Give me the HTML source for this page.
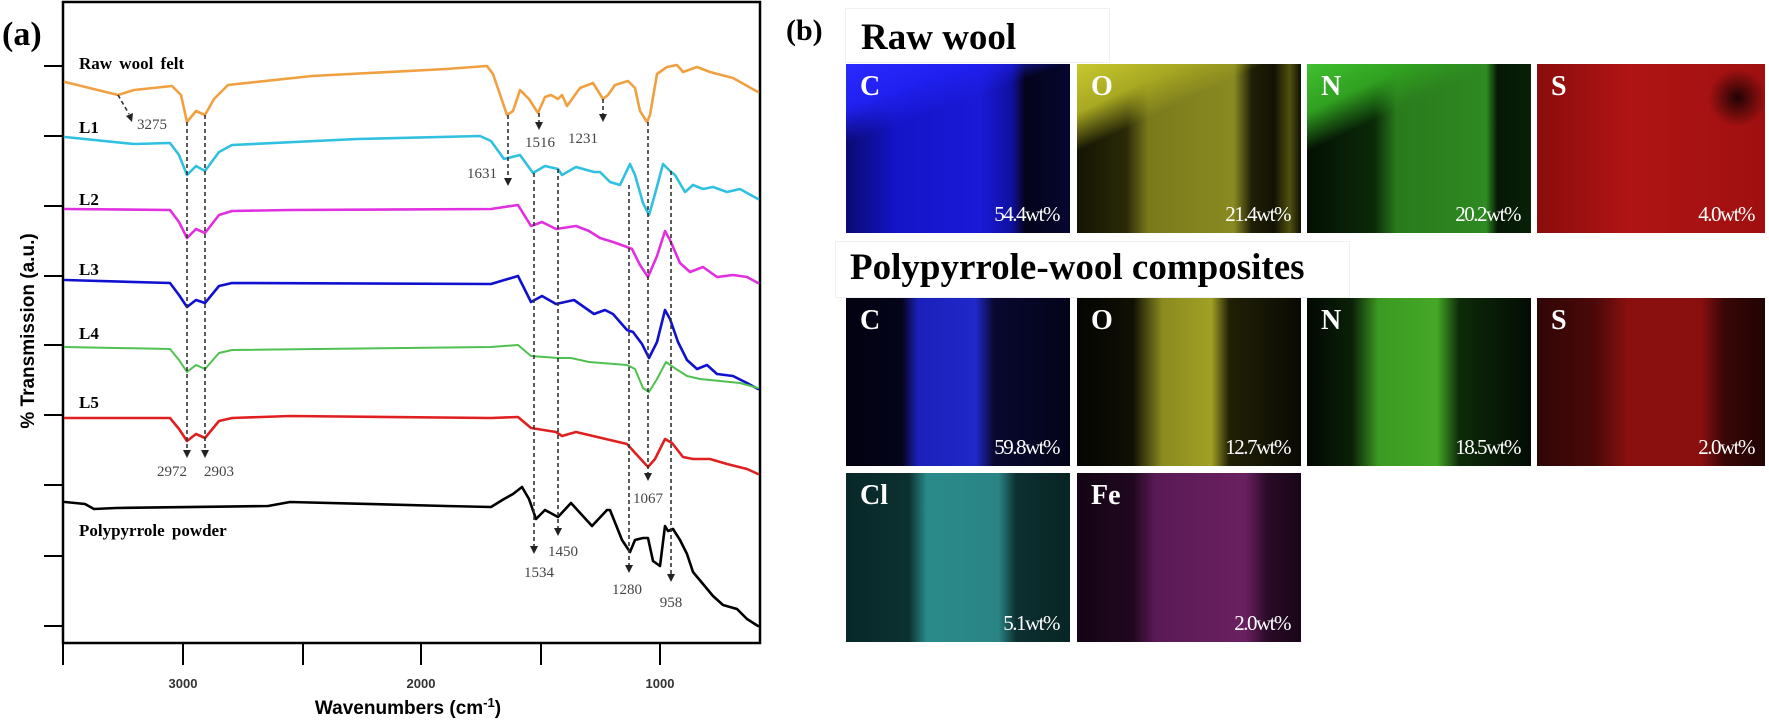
<!DOCTYPE html>
<html><head><meta charset="utf-8"><style>
body{margin:0;background:#fff;width:1769px;height:724px;overflow:hidden;position:relative;font-family:"Liberation Serif",serif}
.t{position:absolute;box-sizing:border-box;overflow:hidden}
.t .el{position:absolute;left:14px;top:7px;color:#fff;font:bold 28px "Liberation Serif",serif}
.t .pc{position:absolute;right:11px;bottom:6px;color:#fff;font:21px "Liberation Serif",serif;letter-spacing:-1.5px}
.hd{position:absolute;font:bold 37px "Liberation Serif",serif;color:#000;background:#fff;border:1px solid #f0f0f0}
</style></head><body>
<svg width="1769" height="724" style="position:absolute;left:0;top:0">
<g font-family="Liberation Serif,serif">
<text x="2" y="45" font-size="34" font-weight="bold">(a)</text>
</g>
<rect x="63" y="2" width="697" height="641" fill="none" stroke="#000" stroke-width="2.5"/>
<g stroke="#000" stroke-width="2">
<line x1="44" y1="66" x2="63" y2="66"/><line x1="44" y1="136" x2="63" y2="136"/><line x1="44" y1="206" x2="63" y2="206"/><line x1="44" y1="276" x2="63" y2="276"/><line x1="44" y1="345" x2="63" y2="345"/><line x1="44" y1="415" x2="63" y2="415"/><line x1="44" y1="485" x2="63" y2="485"/><line x1="44" y1="556" x2="63" y2="556"/><line x1="44" y1="626" x2="63" y2="626"/>
<line x1="63" y1="643" x2="63" y2="665"/><line x1="183" y1="643" x2="183" y2="665"/><line x1="303" y1="643" x2="303" y2="665"/><line x1="421" y1="643" x2="421" y2="665"/><line x1="541" y1="643" x2="541" y2="665"/><line x1="660" y1="643" x2="660" y2="665"/>
</g>
<g font-family="Liberation Sans,sans-serif" font-size="13" font-weight="bold" fill="#333" text-anchor="middle">
<text x="183" y="688">3000</text><text x="421" y="688">2000</text><text x="660" y="688">1000</text>
</g>
<text x="408" y="714" text-anchor="middle" font-family="Liberation Sans,sans-serif" font-size="19" font-weight="bold">Wavenumbers (cm<tspan dy="-7" font-size="13">-1</tspan><tspan dy="7">)</tspan></text>
<text transform="translate(34,331) rotate(-90)" text-anchor="middle" font-family="Liberation Sans,sans-serif" font-size="19" font-weight="bold">% Transmission (a.u.)</text>

<g fill="none" stroke-width="2.6" stroke-linejoin="round" stroke-linecap="round">
<polyline stroke="#f0a040" points="65,82 118,95 134,90 172,86 181,95 187,122 196,111 205,115 214,99 228,85 312,76 446,69 487,66 493,74 507,115 513,111 520,90 529,99 538,113 545,97 551,95 558,99 562,95 567,106 580,88 593,83 603,99 608,95 615,85 628,81 635,88 640,111 647,122 650,115 657,74 667,67 677,65 683,72 697,67 710,72 733,78 758,92"/>
<polyline stroke="#30c0e0" points="65,137 134,144 170,143 179,155 187,175 196,166 205,171 219,152 232,145 357,139 480,136 491,141 504,159 520,155 533,173 545,166 558,169 562,175 576,167 594,172 600,172 610,182 620,185 630,164 635,175 643,203 649,215 655,194 663,164 670,171 675,175 685,192 693,185 703,189 713,187 727,192 740,189 758,199"/>
<polyline stroke="#e030e0" points="65,209 170,210 179,222 187,238 196,229 205,233 219,215 232,211 290,210 491,209 518,205 531,226 542,222 556,229 576,226 589,231 600,238 613,242 627,247 632,249 640,265 648,277 657,256 665,231 670,240 680,263 690,272 703,267 717,277 733,275 747,277 758,283"/>
<polyline stroke="#1010d0" points="65,280 170,283 179,295 187,307 196,300 205,303 219,286 232,283 491,284 518,276 531,302 542,296 556,304 574,300 594,314 605,310 613,314 627,330 633,332 642,344 649,358 657,342 665,310 670,319 678,342 687,360 697,369 707,365 717,374 733,376 747,383 758,389"/>
<polyline stroke="#50c050" stroke-width="2" points="65,347 170,349 179,360 187,372 196,365 205,369 219,353 232,350 491,347 518,345 531,356 558,358 571,358 589,362 627,365 635,369 643,388 649,392 657,379 666,362 673,367 687,376 700,379 720,381 740,383 758,388"/>
<polyline stroke="#e02020" points="65,418 170,418 179,429 187,441 196,434 205,438 219,421 232,418 290,416 491,418 518,417 531,428 556,432 562,436 576,432 593,436 627,444 637,455 648,467 655,459 665,439 672,443 683,457 693,459 710,459 727,464 747,469 758,474"/>
<polyline stroke="#000" points="65,502 85,504 94,509 116,508 268,506 290,502 446,506 491,507 504,499 513,494 522,487 529,499 536,519 545,510 558,517 571,503 592,526 607,510 610,510 622,540 630,552 635,540 643,538 648,538 653,561 660,566 665,526 668,531 673,529 680,540 687,554 693,572 703,584 713,596 723,605 737,609 747,619 758,626"/>
</g>

<g stroke="#333" stroke-width="1.6" stroke-dasharray="4,3" fill="none">
<line x1="187" y1="122" x2="187" y2="450"/><line x1="205" y1="115" x2="205" y2="450"/>
<line x1="118" y1="95" x2="129" y2="114"/>
<line x1="508" y1="115" x2="508" y2="178"/><line x1="539" y1="113" x2="539" y2="122"/>
<line x1="603" y1="99" x2="603" y2="114"/><line x1="648" y1="122" x2="648" y2="473"/>
<line x1="534" y1="173" x2="534" y2="546"/><line x1="558" y1="169" x2="558" y2="528"/>
<line x1="629" y1="185" x2="629" y2="565"/><line x1="671" y1="171" x2="671" y2="574"/>
</g>
<g fill="#222">
<polygon points="183,450 191,450 187,458"/><polygon points="201,450 209,450 205,458"/>
<polygon points="126,116 133,113 132,122"/>
<polygon points="504,178 512,178 508,186"/><polygon points="535,122 543,122 539,130"/>
<polygon points="599,114 607,114 603,122"/><polygon points="644,473 652,473 648,481"/>
<polygon points="530,546 538,546 534,554"/><polygon points="554,528 562,528 558,536"/>
<polygon points="625,565 633,565 629,573"/><polygon points="667,574 675,574 671,582"/>
</g>
<g font-size="15" fill="#444" text-anchor="middle" font-family="Liberation Serif,serif">
<text x="152" y="129">3275</text><text x="172" y="476">2972</text><text x="219" y="476">2903</text>
<text x="482" y="178">1631</text><text x="540" y="147">1516</text><text x="583" y="143">1231</text>
<text x="648" y="503">1067</text><text x="539" y="577">1534</text><text x="563" y="556">1450</text>
<text x="627" y="594">1280</text><text x="671" y="607">958</text>
</g>
<g font-size="17" font-weight="bold" font-family="Liberation Serif,serif" word-spacing="3">
<text x="79" y="69">Raw wool felt</text><text x="79" y="133">L1</text><text x="79" y="205">L2</text>
<text x="79" y="275">L3</text><text x="79" y="339">L4</text><text x="79" y="408">L5</text>
<text x="79" y="536">Polypyrrole powder</text>
</g>
<text x="786" y="40" font-size="30" font-weight="bold" font-family="Liberation Serif,serif">(b)</text>
</svg>

<div class="hd" style="left:845px;top:8px;width:265px;height:55px;padding:9px 0 0 15px;box-sizing:border-box;line-height:40px">Raw wool</div>
<div class="hd" style="left:835px;top:241px;width:515px;height:57px;padding:6px 0 0 14px;box-sizing:border-box;line-height:40px">Polypyrrole-wool composites</div>

<div class="t" style="left:846px;top:64px;width:224px;height:169px;background:linear-gradient(160deg,#2a2aff 0%,#2020f0 18%,transparent 32%),linear-gradient(90deg,#0a0a70 0%,#1414c8 22%,#1a1ad8 60%,#1010a0 74%,#04041c 80%,#060630 100%)"><span class="el">C</span><span class="pc">54.4wt%</span></div>
<div class="t" style="left:1077px;top:64px;width:224px;height:169px;background:linear-gradient(155deg,#c8c830 0%,#a8a822 18%,transparent 32%),linear-gradient(90deg,#141404 0%,#2a2a08 22%,#7a7a1c 32%,#8a8a22 70%,#202006 78%,#121204 88%,#505010 95%,#101004 100%)"><span class="el">O</span><span class="pc">21.4wt%</span></div>
<div class="t" style="left:1307px;top:64px;width:224px;height:169px;background:linear-gradient(155deg,#40c030 0%,#30a020 18%,transparent 32%),linear-gradient(90deg,#041004 0%,#0a2a08 30%,#2a7a1c 40%,#2e8a22 80%,#061804 85%,#082008 100%)"><span class="el">N</span><span class="pc">20.2wt%</span></div>
<div class="t" style="left:1537px;top:64px;width:228px;height:169px;background:radial-gradient(circle at 88% 20%,#200404 0%,transparent 12%),linear-gradient(90deg,#8a0c0c 0%,#b01414 40%,#a01010 100%)"><span class="el">S</span><span class="pc">4.0wt%</span></div>

<div class="t" style="left:846px;top:298px;width:224px;height:168px;background:linear-gradient(90deg,#020210 0%,#04041a 25%,#1a20b8 32%,#2028c8 58%,#080830 66%,#04041a 100%)"><span class="el">C</span><span class="pc">59.8wt%</span></div>
<div class="t" style="left:1077px;top:298px;width:224px;height:168px;background:linear-gradient(90deg,#040402 0%,#101004 25%,#8a8a20 38%,#a0a024 60%,#202006 68%,#0a0a04 100%)"><span class="el">O</span><span class="pc">12.7wt%</span></div>
<div class="t" style="left:1307px;top:298px;width:224px;height:168px;background:linear-gradient(90deg,#020802 0%,#0a2008 20%,#3c9a22 32%,#44a826 58%,#0c2a08 68%,#040c04 100%)"><span class="el">N</span><span class="pc">18.5wt%</span></div>
<div class="t" style="left:1537px;top:298px;width:228px;height:168px;background:linear-gradient(90deg,#300606 0%,#4a0808 25%,#8a1010 40%,#8a1010 72%,#3a0606 82%,#200404 100%)"><span class="el">S</span><span class="pc">2.0wt%</span></div>

<div class="t" style="left:846px;top:473px;width:224px;height:169px;background:linear-gradient(90deg,#082828 0%,#0c3030 28%,#2a8a8a 36%,#2a8585 68%,#0c3030 76%,#082424 100%)"><span class="el">Cl</span><span class="pc">5.1wt%</span></div>
<div class="t" style="left:1077px;top:473px;width:224px;height:169px;background:linear-gradient(90deg,#140414 0%,#200820 25%,#5a1a55 35%,#6a2060 75%,#2a0a28 85%,#180618 100%)"><span class="el">Fe</span><span class="pc">2.0wt%</span></div>
</body></html>
